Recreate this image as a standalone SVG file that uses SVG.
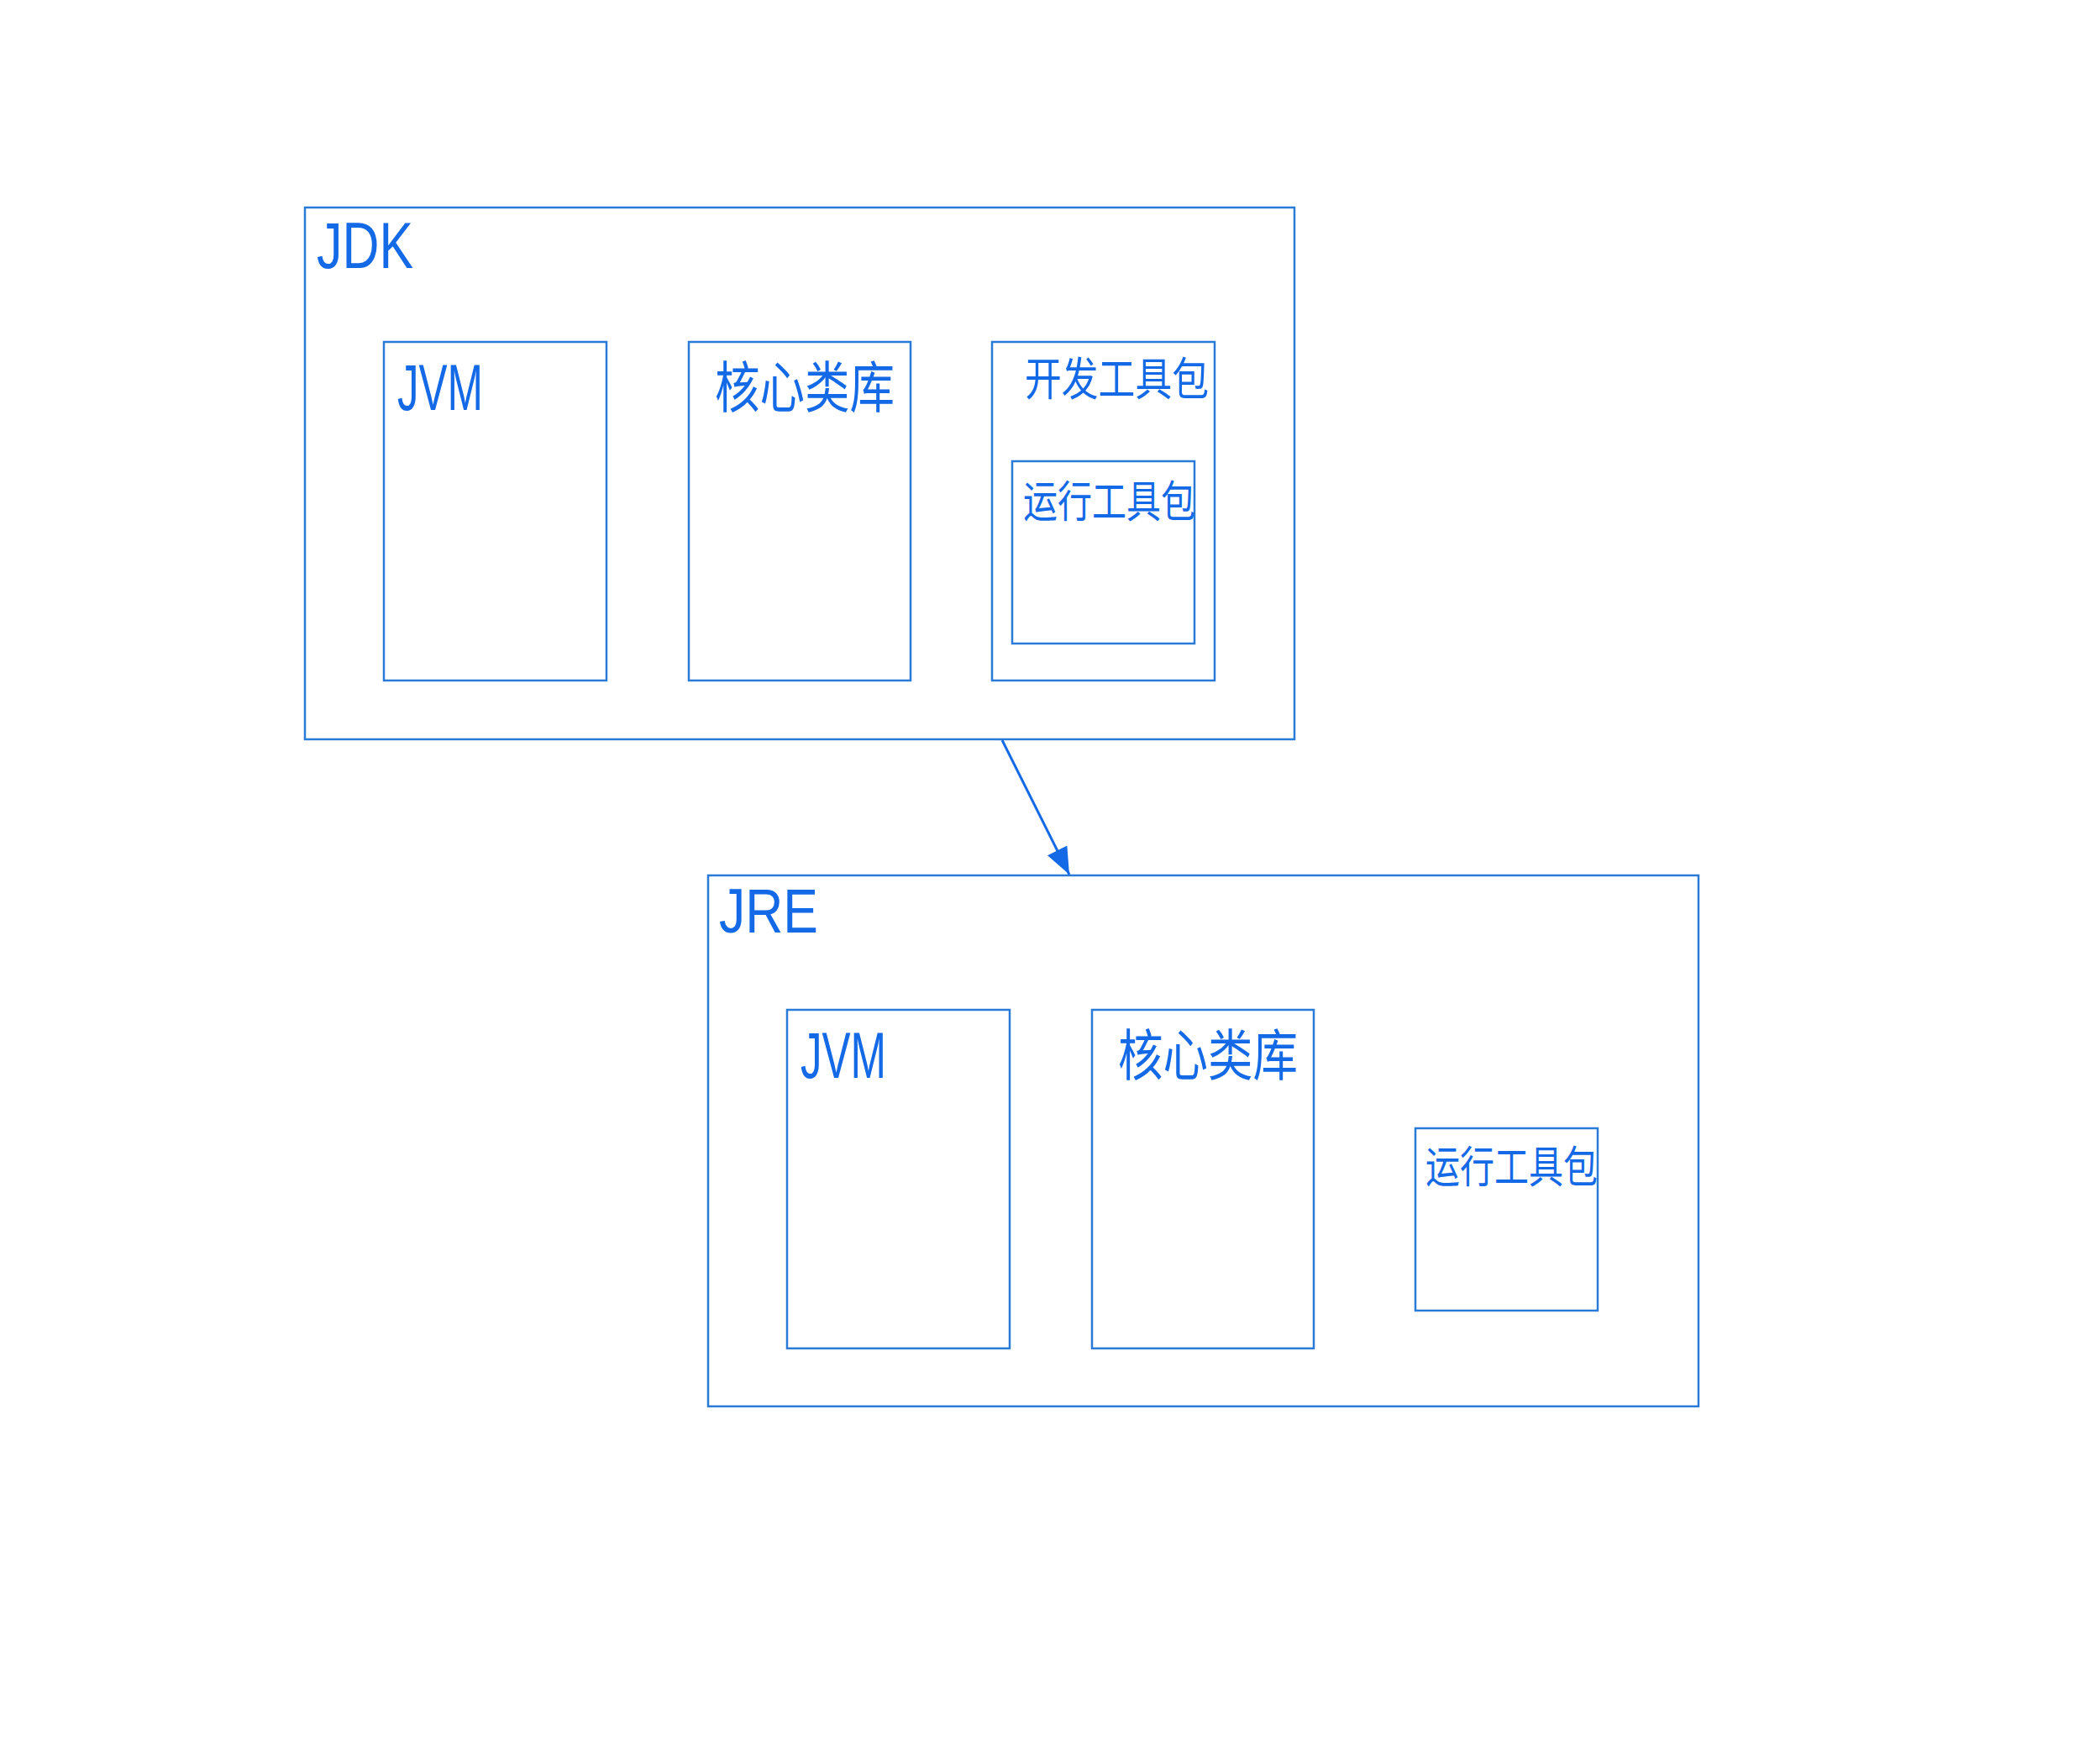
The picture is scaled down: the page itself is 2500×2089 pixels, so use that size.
<svg xmlns="http://www.w3.org/2000/svg" width="2500" height="2089" viewBox="0 0 2500 2089">
  <style>
    .box { fill: none; stroke: #2a7bd8; stroke-width: 2.5; }
    .lat { font-family: "Liberation Sans", "DejaVu Sans", sans-serif; fill: #1469e6; }
    .cjk { font-family: "Noto Sans CJK SC", "Noto Sans", sans-serif; fill: #1469e6; }
    .conn { stroke: #1469e6; stroke-width: 3; fill: none; }
  </style>
  <defs>
    <marker id="arrow" viewBox="0 0 32 26" refX="32" refY="13" markerWidth="32" markerHeight="26" markerUnits="userSpaceOnUse" orient="auto">
      <path d="M0,0 L32,13 L0,26 z" fill="#1469e6"/>
    </marker>
  </defs>
  <rect width="2500" height="2089" fill="#ffffff"/>

  <g id="jdk">
    <rect class="box" x="363" y="247" width="1178" height="633"/>
    <text class="lat" x="377" y="319" font-size="78" textLength="115" lengthAdjust="spacingAndGlyphs">JDK</text>
  </g>
  <g id="jdk-jvm">
    <rect class="box" x="457" y="407" width="265" height="403"/>
    <text class="lat" x="473" y="488" font-size="78" textLength="102" lengthAdjust="spacingAndGlyphs">JVM</text>
  </g>
  <g id="jdk-core">
    <rect class="box" x="820" y="407" width="264" height="403"/>
    <text class="cjk" x="851" y="485" font-size="66" textLength="214" lengthAdjust="spacingAndGlyphs">核心类库</text>
  </g>
  <g id="jdk-devtools">
    <rect class="box" x="1181" y="407" width="265" height="403"/>
    <text class="cjk" x="1220" y="471" font-size="54" textLength="219" lengthAdjust="spacingAndGlyphs">开发工具包</text>
  </g>
  <g id="jdk-runtools">
    <rect class="box" x="1205" y="549" width="217" height="217"/>
    <text class="cjk" x="1218" y="616" font-size="52" textLength="205" lengthAdjust="spacingAndGlyphs">运行工具包</text>
  </g>

  <g id="jre">
    <rect class="box" x="843" y="1042" width="1179" height="632"/>
    <text class="lat" x="856" y="1110" font-size="74" textLength="118" lengthAdjust="spacingAndGlyphs">JRE</text>
  </g>
  <g id="jre-jvm">
    <rect class="box" x="937" y="1202" width="265" height="403"/>
    <text class="lat" x="953" y="1283" font-size="78" textLength="102" lengthAdjust="spacingAndGlyphs">JVM</text>
  </g>
  <g id="jre-core">
    <rect class="box" x="1300" y="1202" width="264" height="403"/>
    <text class="cjk" x="1331" y="1280" font-size="66" textLength="214" lengthAdjust="spacingAndGlyphs">核心类库</text>
  </g>
  <g id="jre-runtools">
    <rect class="box" x="1685" y="1343" width="217" height="217"/>
    <text class="cjk" x="1697" y="1408" font-size="52" textLength="205" lengthAdjust="spacingAndGlyphs">运行工具包</text>
  </g>

  <g id="connectors">
    <line class="conn" x1="1193" y1="881" x2="1273" y2="1041" marker-end="url(#arrow)"/>
  </g>
</svg>
